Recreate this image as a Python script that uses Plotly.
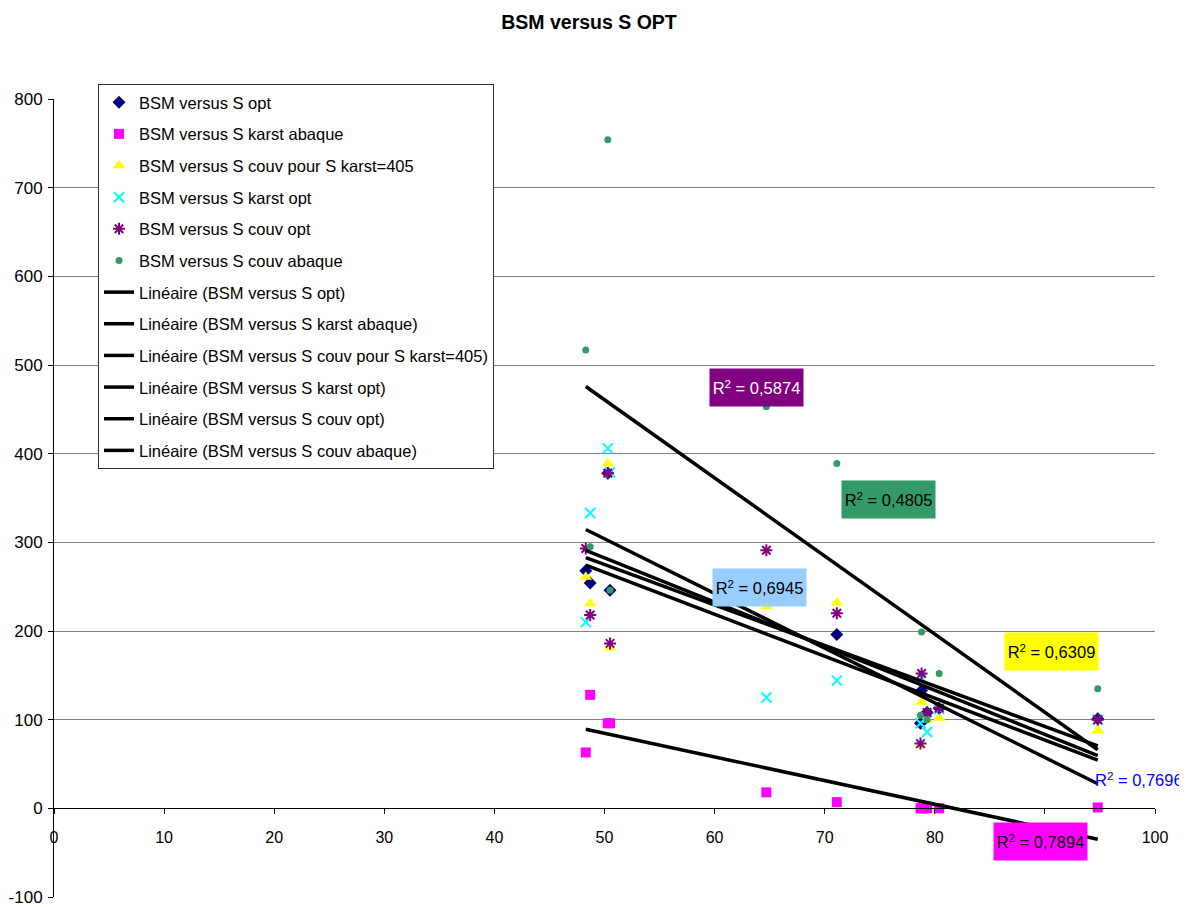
import numpy as np
import plotly.graph_objects as go

# ---- data ----
x_stations = [48.3, 48.7, 50.3, 50.5, 64.7, 71.1, 78.8, 78.7, 79.3, 80.4, 94.8]

bsm_s_opt = [268, 254, 378, 246, 240, 196, 133, 96, 108, 113, 101]
bsm_s_karst_abaque = [63, 128, 96, 96, 18, 7, 0, 0, 0, 0, 1]
bsm_s_couv_405 = [261, 231, 389, 181, 228, 232, 120, 71, 100, 102, 88]
bsm_s_karst_opt = [210, 333, 406, 379, 125, 144, 147, 96, 86, 112, 100]
bsm_s_couv_opt = [293, 218, 378, 186, 291, 220, 152, 73, 108, 113, 100]
bsm_s_couv_abaque = [517, 295, 754, 246, 453, 389, 199, 105, 100, 152, 135]

series_names = [
    "BSM versus S opt",
    "BSM versus S karst abaque",
    "BSM versus S couv pour S karst=405",
    "BSM versus S karst opt",
    "BSM versus S couv opt",
    "BSM versus S couv abaque",
]
series_values = [bsm_s_opt, bsm_s_karst_abaque, bsm_s_couv_405,
                 bsm_s_karst_opt, bsm_s_couv_opt, bsm_s_couv_abaque]

r2_texts = ["0,5874", "0,4805", "0,6945", "0,6309", "0,7696", "0,7894"]

x_ticks = list(range(0, 101, 10))
y_ticks = list(range(-100, 801, 100))

FONT = "Liberation Sans, Arial, sans-serif"

marker_styles = [
    dict(symbol="diamond", color="#000080", size=10),
    dict(symbol="square", color="#FF00FF", size=10),
    dict(symbol="triangle-up", color="#FFFF00", size=11),
    dict(symbol="x-thin-open", color="#00FFFF", size=10, line=dict(color="#00FFFF", width=2)),
    dict(symbol="asterisk-open", color="#800080", size=10, line=dict(color="#800080", width=2)),
    dict(symbol="circle", color="#339966", size=7),
]

fig = go.Figure()

for i, (name, vals) in enumerate(zip(series_names, series_values)):
    fig.add_trace(go.Scatter(
        x=x_stations, y=vals, mode="markers", name=name,
        marker=marker_styles[i], legendgroup=f"m{i}",
    ))

xs = np.array(x_stations)
for i, (name, vals) in enumerate(zip(series_names, series_values)):
    slope, icpt = np.polyfit(xs, np.array(vals, dtype=float), 1)
    xl = np.array([xs.min(), xs.max()])
    fig.add_trace(go.Scatter(
        x=xl, y=slope * xl + icpt, mode="lines", name=f"Linéaire ({name})",
        line=dict(color="black", width=3.5), legendgroup=f"l{i}",
    ))

# R² labels
labels = [
    dict(x=63.8, y=475, text=r2_texts[0], bg="#800080", fc="white", xa="center"),
    dict(x=75.8, y=348, text=r2_texts[1], bg="#339966", fc="black", xa="center"),
    dict(x=64.1, y=249, text=r2_texts[2], bg="#99CCFF", fc="black", xa="center"),
    dict(x=90.6, y=177, text=r2_texts[3], bg="#FFFF00", fc="black", xa="center"),
    dict(x=94.5, y=32, text=r2_texts[4], bg="rgba(0,0,0,0)", fc="#0000FF", xa="left"),
    dict(x=89.6, y=-37, text=r2_texts[5], bg="#FF00FF", fc="black", xa="center"),
]
for lb in labels:
    box = dict(width=93, height=37, align="center") if lb["xa"] == "center" else dict(height=37)
    fig.add_annotation(
        x=lb["x"], y=lb["y"], xref="x", yref="y",
        text=f"R<sup>2</sup> = {lb['text']}", showarrow=False,
        xanchor=lb["xa"], yanchor="middle",
        bgcolor=lb["bg"], borderpad=0,
        font=dict(family=FONT, size=16.5, color=lb["fc"]),
        **box,
    )

# The page body has an 8px margin: the figure is sized/offset to compensate.
W, H = 1179, 899
fig.update_layout(
    width=W, height=H,
    margin=dict(l=46, r=32, t=91, b=10, autoexpand=False),
    paper_bgcolor="white", plot_bgcolor="white",
    title=dict(text="<b>BSM versus S OPT</b>", x=(589 - 8) / W, xref="container", xanchor="center",
               y=1 - 14 / H, yref="container", yanchor="middle",
               font=dict(family=FONT, size=19.5, color="black")),
    font=dict(family=FONT, size=14, color="black"),
    showlegend=True,
    legend=dict(
        x=(98 - 54) / 1101, y=(897 - 84) / 798, xanchor="left", yanchor="top",
        bgcolor="white", bordercolor="#303030", borderwidth=1,
        font=dict(family=FONT, size=16.5, color="black"),
        traceorder="grouped", tracegroupgap=7.2,
    ),
    xaxis=dict(
        range=[0, 100], tickvals=x_ticks, ticktext=[str(v) for v in x_ticks],
        showgrid=False, zeroline=False, showline=True, linecolor="black", linewidth=1,
        ticks="outside", ticklen=5, tickcolor="black", automargin=False,
        anchor="free", position=100 / 900, ticklabelstandoff=9,
        tickfont=dict(family=FONT, size=16),
    ),
    yaxis=dict(
        range=[-100, 800], tickvals=y_ticks, ticktext=[str(v) for v in y_ticks],
        showgrid=True, gridcolor="#808080", gridwidth=1, zeroline=False,
        showline=True, linecolor="black", linewidth=1, automargin=False,
        ticks="outside", ticklen=5, tickcolor="black", ticklabelstandoff=2,
        tickfont=dict(family=FONT, size=17),
    ),
)

fig.write_html("out.html")
